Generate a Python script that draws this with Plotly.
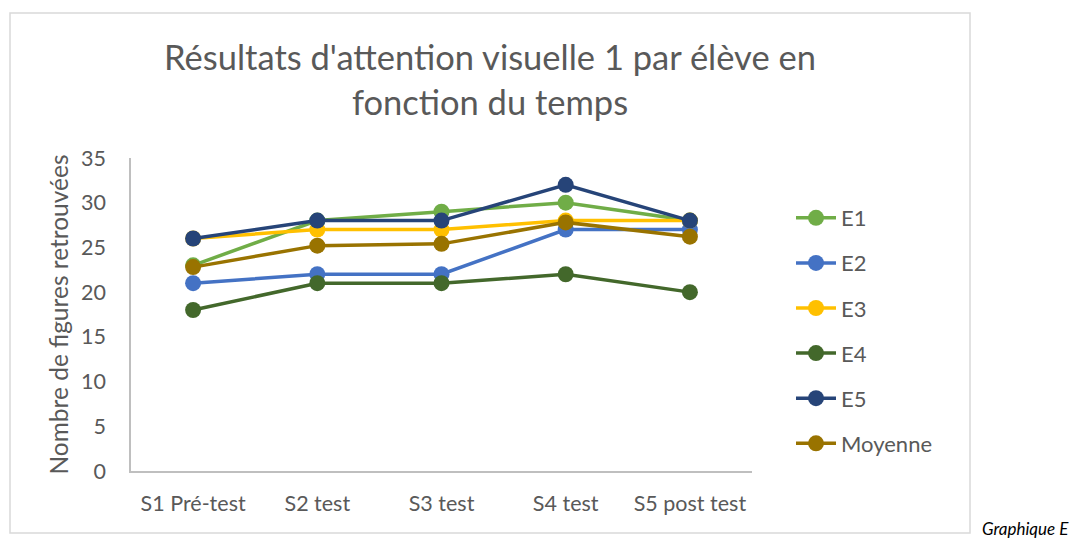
import plotly.graph_objects as go

categories = ["S1 Pré-test", "S2 test", "S3 test", "S4 test", "S5 post test"]
series_names = ["E1", "E2", "E3", "E4", "E5", "Moyenne"]
e1 = [23, 28, 29, 30, 28]
e2 = [21, 22, 22, 27, 27]
e3 = [26, 27, 27, 28, 28]
e4 = [18, 21, 21, 22, 20]
e5 = [26, 28, 28, 32, 28]
moyenne = [22.8, 25.2, 25.4, 27.8, 26.2]
y_ticks = [0, 5, 10, 15, 20, 25, 30, 35]

colors = ["#70AD47", "#4472C4", "#FFC000", "#43682B", "#264478", "#997300"]
all_series = [e1, e2, e3, e4, e5, moyenne]

FONT = "Lato, 'Open Sans', sans-serif"
GREY = "#595959"

fig = go.Figure()
for name, vals, col in zip(series_names, all_series, colors):
    fig.add_trace(go.Scatter(
        x=categories, y=vals, name=name, mode="lines+markers",
        line=dict(color=col, width=3.5),
        marker=dict(color=col, size=16),
        legendgroup=name,
    ))

fig.update_layout(
    width=1077, height=539,
    margin=dict(l=131, r=325, t=158, b=68),
    paper_bgcolor="white", plot_bgcolor="white",
    font=dict(family=FONT, color=GREY),
    title=dict(
        text="Résultats d'attention visuelle 1 par élève en<br>fonction du temps",
        x=490 / 1077, xanchor="center", xref="container",
        y=1 - 70 / 539, yanchor="middle", yref="container",
        font=dict(size=34.5, color=GREY, family=FONT),
    ),
    showlegend=True,
    legend=dict(
        x=(791 - 131) / 621, xanchor="left",
        y=(471 - 197) / 313, yanchor="top",
        font=dict(size=22, color=GREY, family=FONT),
        tracegroupgap=13.5, bgcolor="rgba(0,0,0,0)",
        itemwidth=40,
    ),
    xaxis=dict(
        type="category", range=[-0.5, 4.5],
        showgrid=False, showline=True, linecolor="#BFBFBF", linewidth=1.5,
        ticks="outside", ticklen=12, tickcolor="rgba(0,0,0,0)",
        tickfont=dict(size=21.5, color=GREY, family=FONT),
        zeroline=False,
    ),
    yaxis=dict(
        range=[0, 35], tickvals=y_ticks,
        showgrid=False, showline=True, linecolor="#BFBFBF", linewidth=1.5,
        ticks="outside", ticklen=19, tickcolor="rgba(0,0,0,0)",
        tickfont=dict(size=21.5, color=GREY, family=FONT),
        zeroline=False,
        title=dict(text="Nombre de figures retrouvées", standoff=5,
                   font=dict(size=24.5, color=GREY, family=FONT)),
    ),
)

# outer chart frame
fig.add_shape(type="rect", xref="paper", yref="paper",
              x0=(10 - 131) / 621, x1=(970 - 131) / 621,
              y0=(471 - 533) / 313, y1=(471 - 13) / 313,
              line=dict(color="#D9D9D9", width=1.5), fillcolor="rgba(0,0,0,0)", layer="below")

fig.add_annotation(text="<i>Graphique E</i>", xref="paper", yref="paper",
                   x=(1071 - 131) / 621, xanchor="right",
                   y=(471 - 528) / 313, yanchor="middle",
                   showarrow=False, font=dict(size=17, color="black", family=FONT))

fig.write_html("out.html", config={"displayModeBar": False},
               post_script="document.body.style.margin='0';document.body.style.overflow='hidden';")
